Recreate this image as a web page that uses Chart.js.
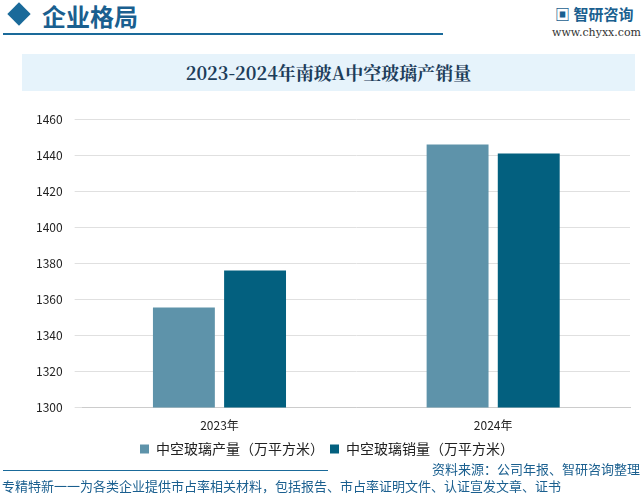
<!DOCTYPE html><html><head><meta charset="utf-8">
<script src="https://cdn.jsdelivr.net/npm/chart.js"></script>
<style>
body{margin:0;width:644px;height:496px;background:#fff;font-family:"Noto Sans CJK SC",sans-serif;position:relative;overflow:hidden}
.a{position:absolute}
</style></head><body>
<div class="a" style="left:8px;top:3px;width:22px;height:22px;background:#1a6a9a;transform:rotate(45deg) scale(.75)"></div>
<div class="a" style="left:42px;top:-2px;font-size:24px;color:#1a5f8f;font-weight:bold">企业格局</div>
<div class="a" style="left:3px;top:33px;width:440px;height:2px;background:#1a6a9a"></div>
<div class="a" style="left:555px;top:3px;font-size:15px;color:#1a5f8f;font-weight:bold">▣ 智研咨询</div>
<div class="a" style="left:552px;top:26px;font-size:11px;color:#333;font-family:'DejaVu Serif'">www.chyxx.com</div>
<div class="a" style="left:22px;top:54px;width:613px;height:37px;background:#e6f3fb;text-align:center;line-height:37px;font-size:18px;font-weight:bold;color:#1d3d5a;font-family:'Noto Serif CJK SC','DejaVu Serif',serif">2023-2024年南玻A中空玻璃产销量</div>
<div class="a" style="left:0;top:100px;width:644px;height:366px"><canvas id="c"></canvas></div>
<div class="a" style="left:3px;top:470px;width:325px;height:1px;background:#1a6a9a"></div>
<div class="a" style="right:4px;top:459px;font-size:13px;color:#1a5f8f">资料来源：公司年报、智研咨询整理</div>
<div class="a" style="left:2px;top:476px;font-size:13px;color:#1a5f8f">专精特新一一为各类企业提供市占率相关材料，包括报告、市占率证明文件、认证宣发文章、证书</div>
<script>
const categories=["2023年","2024年"];
const production=[1355.5,1446];
const sales=[1376,1441];
new Chart(document.getElementById('c'),{type:'bar',
data:{labels:categories,datasets:[
{label:"中空玻璃产量（万平方米）",data:production,backgroundColor:"#5e93aa"},
{label:"中空玻璃销量（万平方米）",data:sales,backgroundColor:"#03607f"}]},
options:{responsive:true,maintainAspectRatio:false,animation:false,
layout:{padding:{left:24,right:14,top:8}},
categoryPercentage:0.52,barPercentage:0.87,
plugins:{legend:{position:'bottom',labels:{boxWidth:9,boxHeight:9,font:{size:14,family:"Noto Sans CJK SC"},color:'#222',padding:6}},tooltip:{enabled:false}},
scales:{x:{grid:{display:false},border:{color:'#ccc'},ticks:{font:{size:12,family:"Noto Sans CJK SC"},color:'#222'}},
y:{min:1300,max:1460,ticks:{stepSize:20,callback:v=>String(v),font:{size:12,family:"Noto Sans CJK SC"},color:'#222',padding:12},grid:{color:'#e0e0e0'},border:{display:false}}}}});
</script></body></html>
